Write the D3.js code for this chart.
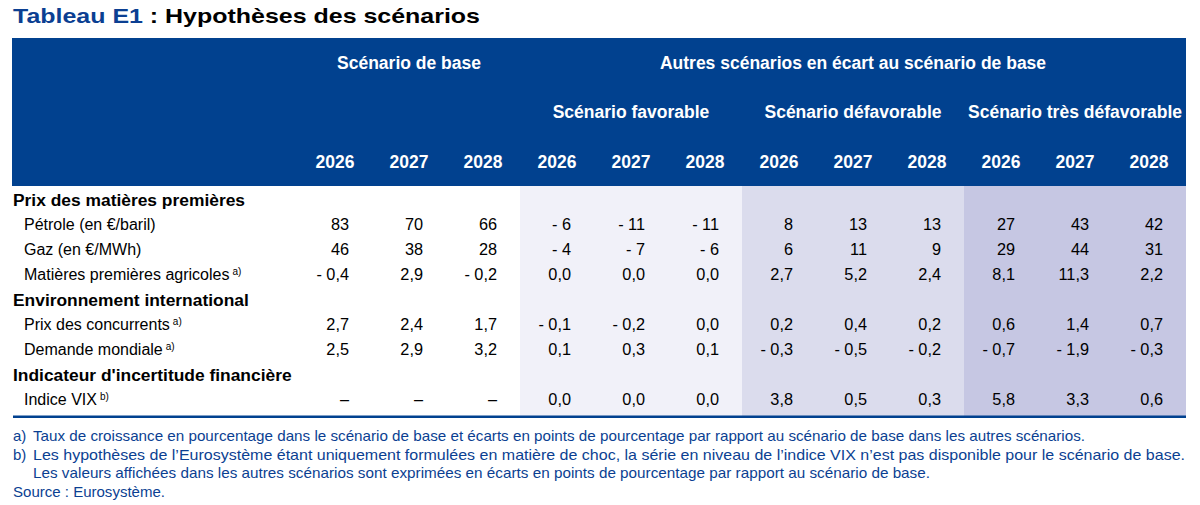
<!DOCTYPE html>
<html>
<head>
<meta charset="utf-8">
<script src="https://cdn.jsdelivr.net/npm/d3@7"></script>
<style>
  body { margin: 0; background: #fff; }
  svg { display: block; font-family: "Liberation Sans", Arial, sans-serif; }
</style>
</head>
<body>
<svg id="table" width="1200" height="505"></svg>
<script>
// --- data ---
var groups = ["Scénario de base", "Scénario favorable", "Scénario défavorable", "Scénario très défavorable"];
var years = ["2026", "2027", "2028"];
var otherTitle = "Autres scénarios en écart au scénario de base";

var rowLabels = [
  "Prix des matières premières",
  "Pétrole (en €/baril)",
  "Gaz (en €/MWh)",
  "Matières premières agricoles",
  "Environnement international",
  "Prix des concurrents",
  "Demande mondiale",
  "Indicateur d'incertitude financière",
  "Indice VIX"
];
var rowIsSection = [true, false, false, false, true, false, false, true, false];
var rowNote = ["", "", "", "a)", "", "a)", "a)", "", "b)"];
var rowDecimals = [0, 0, 0, 1, 0, 1, 1, 0, 1];

// 12 values per row: base 2026-28, favorable, défavorable, très défavorable
var rowValues = [
  null,
  [83, 70, 66, -6, -11, -11, 8, 13, 13, 27, 43, 42],
  [46, 38, 28, -4, -7, -6, 6, 11, 9, 29, 44, 31],
  [-0.4, 2.9, -0.2, 0.0, 0.0, 0.0, 2.7, 5.2, 2.4, 8.1, 11.3, 2.2],
  null,
  [2.7, 2.4, 1.7, -0.1, -0.2, 0.0, 0.2, 0.4, 0.2, 0.6, 1.4, 0.7],
  [2.5, 2.9, 3.2, 0.1, 0.3, 0.1, -0.3, -0.5, -0.2, -0.7, -1.9, -0.3],
  null,
  [null, null, null, 0.0, 0.0, 0.0, 3.8, 0.5, 0.3, 5.8, 3.3, 0.6]
];

var notes = [
  ["a)", "Taux de croissance en pourcentage dans le scénario de base et écarts en points de pourcentage par rapport au scénario de base dans les autres scénarios."],
  ["b)", "Les hypothèses de l’Eurosystème étant uniquement formulées en matière de choc, la série en niveau de l’indice VIX n’est pas disponible pour le scénario de base."],
  ["", "Les valeurs affichées dans les autres scénarios sont exprimées en écarts en points de pourcentage par rapport au scénario de base."],
  ["Source :", "Eurosystème."]
];

// --- layout ---
var svg = d3.select("#table");
var blue = "#01418f";
var shades = [null, "#f1f1f9", "#dbdced", "#c6c7e3"];

var cols = d3.range(groups.length * years.length);
var x = d3.scaleBand().domain(cols).range([298, 1186]);
var xg = d3.scaleBand().domain(d3.range(groups.length)).range([298, 1186]);
var y = d3.scaleBand().domain(d3.range(rowLabels.length)).range([187, 412]);

var fmt = function(v, dec) {
  if (v == null) return "–";
  var s = Math.abs(v).toFixed(dec).replace(".", ",");
  return v < 0 ? "- " + s : s;
};

// title
var title = svg.append("text").attr("x", 13).attr("y", 23)
  .attr("textLength", 467).attr("lengthAdjust", "spacingAndGlyphs")
  .style("font-size", "20.5px").style("font-weight", "bold");
title.append("tspan").attr("fill", "#0b3f92").text("Tableau E1");
title.append("tspan").attr("fill", "#000").text(" : Hypothèses des scénarios");

// column shading
svg.selectAll("rect.shade")
  .data(d3.range(1, groups.length))
  .enter().append("rect")
  .attr("class", "shade")
  .attr("x", function(d) { return xg(d); })
  .attr("y", 186)
  .attr("width", xg.bandwidth())
  .attr("height", 230)
  .attr("fill", function(d) { return shades[d]; });

// header block
svg.append("rect").attr("x", 12).attr("y", 38).attr("width", 1174).attr("height", 148).attr("fill", blue);

var head = svg.append("g").attr("fill", "#fff").style("font-weight", "bold").style("font-size", "17.5px")
  .attr("text-anchor", "middle");

head.append("text").attr("x", xg(0) + xg.bandwidth() / 2).attr("y", 69).text(groups[0]);
head.append("text").attr("x", (xg(1) + 1186) / 2).attr("y", 69).text(otherTitle);
head.selectAll("text.grp")
  .data(d3.range(1, groups.length))
  .enter().append("text")
  .attr("class", "grp")
  .attr("x", function(d) { return xg(d) + xg.bandwidth() / 2; })
  .attr("y", 118)
  .text(function(d) { return groups[d]; });
head.selectAll("text.yr")
  .data(cols)
  .enter().append("text")
  .attr("class", "yr")
  .attr("x", function(d) { return x(d) + x.bandwidth() / 2; })
  .attr("y", 168)
  .text(function(d) { return years[d % years.length]; });

// rows
var rows = svg.selectAll("g.row")
  .data(rowLabels)
  .enter().append("g")
  .attr("class", "row")
  .attr("transform", function(d, i) { return "translate(0," + (y(i) + y.bandwidth() / 2) + ")"; });

var lab = rows.append("text")
  .attr("x", function(d, i) { return rowIsSection[i] ? 13 : 24; })
  .attr("dy", "0.36em")
  .style("font-size", function(d, i) { return rowIsSection[i] ? "17.4px" : "16px"; })
  .style("font-weight", function(d, i) { return rowIsSection[i] ? "bold" : "normal"; })
  .attr("fill", "#000");
lab.append("tspan").text(function(d) { return d; });
lab.append("tspan")
  .attr("dx", 3).attr("dy", "-0.5em")
  .style("font-size", "10px")
  .text(function(d, i) { return rowNote[i]; });

rows.each(function(d, i) {
  if (!rowValues[i]) return;
  d3.select(this).selectAll("text.val")
    .data(rowValues[i])
    .enter().append("text")
    .attr("class", "val")
    .attr("x", function(v, j) { return x(j) + x.bandwidth() - 23; })
    .attr("dy", "0.36em")
    .attr("text-anchor", "end")
    .style("font-size", "16.3px")
    .attr("fill", "#000")
    .text(function(v) { return fmt(v, rowDecimals[i]); });
});

// bottom rule
svg.append("rect").attr("x", 13).attr("y", 415.5).attr("width", 1173).attr("height", 2.5).attr("fill", blue);

// notes
var noteY = [441, 460, 478, 497];
var noteEnd = [1085, 1185, 930, 165];
var nt = svg.selectAll("g.note")
  .data(notes)
  .enter().append("g")
  .attr("class", "note")
  .attr("fill", "#0b3f92")
  .style("font-size", "15px");
nt.append("text")
  .attr("x", 13)
  .attr("y", function(d, i) { return noteY[i]; })
  .attr("textLength", function(d, i) { return i === 3 ? noteEnd[i] - 13 : null; })
  .attr("lengthAdjust", "spacingAndGlyphs")
  .text(function(d, i) { return i < 3 ? d[0] : d[0] + " " + d[1]; });
nt.filter(function(d, i) { return i < 3; }).append("text")
  .attr("x", 33)
  .attr("y", function(d, i) { return noteY[i]; })
  .attr("textLength", function(d, i) { return noteEnd[i] - 33; })
  .attr("lengthAdjust", "spacingAndGlyphs")
  .text(function(d) { return d[1]; });
</script>
</body>
</html>
